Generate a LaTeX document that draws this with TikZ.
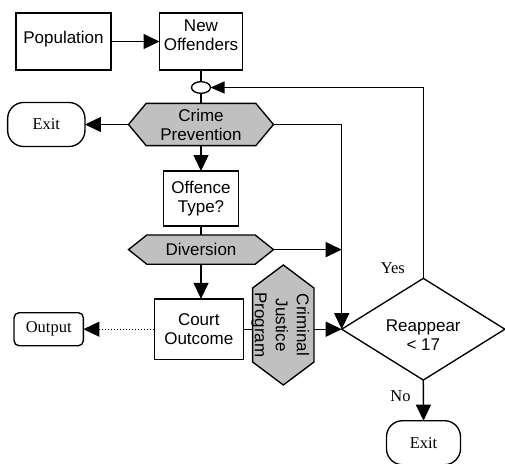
\documentclass[tikz,border=0pt]{standalone}
\usepackage{fontspec}
\setmainfont{Liberation Serif}
\newfontfamily\arialf{Liberation Sans}
\usetikzlibrary{arrows.meta,shapes.geometric,backgrounds,calc}
\definecolor{hexgray}{RGB}{192,192,192}
\newcommand{\xdepth}[1]{\rule[-#1pt]{0pt}{0pt}}
\begin{document}
\begin{tikzpicture}[x=1pt,y=-1pt,
  every node/.style={inner sep=0pt, outer sep=0pt},
  sans/.style={font=\arialf\fontsize{17}{19}\selectfont, align=center},
  serif/.style={font=\fontsize{16.5}{19}\selectfont, align=center},
  box/.style={sans, draw, line width=1.35pt, rectangle},
  hexnode/.style={sans, rectangle},
  hexfill/.style={fill=hexgray, draw, line width=1.35pt},
  term/.style={serif, draw, line width=1.35pt, rounded corners=16pt},
  outbox/.style={serif, draw, line width=1.35pt, rounded corners=5pt},
  conn/.style={line width=1.35pt},
  arr/.style={conn, -{Triangle[length=16pt,width=15pt]}},
  arrsmall/.style={conn, -{Triangle[length=14pt,width=12pt]}},
  dotarr/.style={line width=1pt, dotted, -{Triangle[length=16pt,width=15pt]}},
  lbl/.style={serif}
]
\useasboundingbox (0,0) rectangle (505,463);

% nodes
\node[box, minimum width=95pt, minimum height=57pt] (pop) at (63.5,41.5) {Population\xdepth{8}};
\node[box, minimum width=83pt, minimum height=57pt] (newoff) at (201,41.5) {New\\Offenders\xdepth{13}};
\node[ellipse, draw, line width=1.35pt, minimum width=19pt, minimum height=11.6pt] (circ) at (201,87.5) {};
\node[hexnode, minimum width=145pt, minimum height=42.3pt] (cp) at (201,124.5) {Crime\\Prevention};
\node[term, minimum width=77.3pt, minimum height=44pt] (exit1) at (46.3,124.5) {Exit};
\node[box, minimum width=75.5pt, minimum height=55pt] (ot) at (201,198.5) {Offence\\Type?};
\node[hexnode, minimum width=145pt, minimum height=29.3pt] (dv) at (201,249.6) {Diversion};
\node[box, minimum width=89pt, minimum height=60.7pt] (co) at (198.8,329.2) {Court\\Outcome};
\node[outbox, minimum width=69.3pt, minimum height=33pt] (out) at (48.7,329.2) {Output};
\node[rectangle, minimum width=61.3pt, minimum height=120pt] (cjp) at (283.3,325) {};
\node[diamond, draw, line width=1.35pt, minimum width=163.2pt, minimum height=101.7pt] (re) at (423.3,329.2) {};
\node[term, minimum width=74pt, minimum height=44pt] (exit2) at (423.5,442.7) {Exit};

% hexagon fills
\begin{scope}[on background layer]
  \draw[hexfill] (cp.west) -- ([xshift=17.7pt]cp.north west) -- ([xshift=-17.7pt]cp.north east) -- (cp.east)
     -- ([xshift=-17.7pt]cp.south east) -- ([xshift=17.7pt]cp.south west) -- cycle;
  \draw[hexfill] (dv.west) -- ([xshift=18.4pt]dv.north west) -- ([xshift=-18.4pt]dv.north east) -- (dv.east)
     -- ([xshift=-18.4pt]dv.south east) -- ([xshift=18.4pt]dv.south west) -- cycle;
  \draw[hexfill] (cjp.north) -- ([yshift=-23pt]cjp.north east) -- ([yshift=23pt]cjp.south east) -- (cjp.south)
     -- ([yshift=23pt]cjp.south west) -- ([yshift=-23pt]cjp.north west) -- cycle;
\end{scope}

% texts
\node[sans, rotate=-90, font=\arialf\fontsize{17}{21}\selectfont] (cjpt) at ([xshift=-3pt]cjp.center) {Criminal\\Justice\\Program};
\node[sans] (ret) at ([yshift=-5.5pt]re.center) {Reappear\\< 17};
\node[lbl] (yes) at (392.8,268.3) {Yes};
\node[lbl] (no) at (400.5,396) {No};

% connectors
\draw[arr] (pop) -- (newoff);
\draw[conn] (newoff.south) -- (circ.north);
\draw[conn] (circ.south) -- (cp.north);
\draw[arr] (cp.west) -- (exit1.east);
\draw[arr] (cp.south) -- (ot.north);
\draw[conn] (ot.south) -- (dv.north);
\draw[arr] (dv.south) -- (dv.south |- co.north);
\draw[dotarr] (co.west) -- (out.east);
\draw[conn] (co.east) -- (co.east -| cjp.west);
\draw[arr] (cjp.east |- re.west) -- (re.west);
\draw[arr] (cp.east) -| (re.west);
\draw[arr] (dv.east) -- (dv.east -| re.west);
\draw[arrsmall] (re.north) |- (circ.east);
\draw[arr] (re.south) -- (exit2.north);
\end{tikzpicture}
\end{document}
